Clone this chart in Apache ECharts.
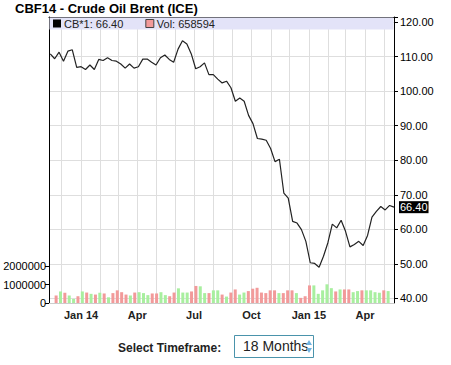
<!DOCTYPE html>
<html><head><meta charset="utf-8">
<script src="https://cdn.jsdelivr.net/npm/echarts@6/dist/echarts.min.js"></script>
<style>html,body{margin:0;padding:0;background:#fff;}#c{width:451px;height:365px;}</style>
</head><body><div id="c"></div>
<script>
// ---- data ----
const weekDates = [
 '2013-11-15','2013-11-22','2013-11-29','2013-12-06','2013-12-13','2013-12-20','2013-12-27',
 '2014-01-03','2014-01-10','2014-01-17','2014-01-24','2014-01-31','2014-02-07','2014-02-14',
 '2014-02-21','2014-02-28','2014-03-07','2014-03-14','2014-03-21','2014-03-28','2014-04-04',
 '2014-04-11','2014-04-18','2014-04-25','2014-05-02','2014-05-09','2014-05-16','2014-05-23',
 '2014-05-30','2014-06-06','2014-06-13','2014-06-20','2014-06-27','2014-07-04','2014-07-11',
 '2014-07-18','2014-07-25','2014-08-01','2014-08-08','2014-08-15','2014-08-22','2014-08-29',
 '2014-09-05','2014-09-12','2014-09-19','2014-09-26','2014-10-03','2014-10-10','2014-10-17',
 '2014-10-24','2014-10-31','2014-11-07','2014-11-14','2014-11-21','2014-11-28','2014-12-05',
 '2014-12-12','2014-12-19','2014-12-26','2015-01-02','2015-01-09','2015-01-16','2015-01-23',
 '2015-01-30','2015-02-06','2015-02-13','2015-02-20','2015-02-27','2015-03-06','2015-03-13',
 '2015-03-20','2015-03-27','2015-04-03','2015-04-10','2015-04-17','2015-04-24','2015-05-01',
 '2015-05-08','2015-05-15'
];
const prices = [
 110.8,109.4,111.3,108.7,111.6,112.0,106.9,107.1,106.3,107.6,
 106.3,109.2,108.9,109.7,108.9,108.7,107.9,106.7,107.9,106.7,
 107.1,109.3,109.3,108.4,107.6,109.7,110.5,109.2,108.4,112.2,
 114.6,113.7,110.8,106.5,107.1,108.2,104.8,104.8,103.5,102.4,
 102.9,101.0,97.1,98.0,97.1,93.0,90.6,86.3,86.1,85.8,
 83.4,79.6,80.3,70.5,69.0,62.3,61.8,59.9,56.5,50.3,
 50.1,49.0,52.2,56.1,61.5,60.4,62.6,59.4,54.9,55.6,
 56.5,55.3,58.2,63.5,65.2,66.6,65.6,66.9,66.40
];
// weekly volume bars (first and last week fall outside the visible bars)
const volumes = [
 null,
 410000,630000,560000,410000,220000,370000,630000,570000,500000,460000,
 560000,520000,310000,540000,690000,590000,460000,410000,570000,590000,
 540000,430000,520000,520000,590000,430000,370000,570000,800000,570000,
 570000,630000,930000,910000,540000,540000,690000,690000,460000,350000,
 570000,740000,460000,570000,650000,780000,830000,570000,540000,690000,
 690000,540000,540000,690000,690000,540000,280000,370000,960000,960000,
 500000,690000,1020000,810000,630000,740000,740000,740000,590000,650000,
 690000,690000,690000,590000,560000,690000,650000,
 null
];
const lastVolume = 658594;
const volumeDirs = [
 'd',
 'd','u','d','u','u','d','u','d','u','d',
 'u','d','u','d','d','d','d','u','d','u',
 'u','u','d','d','u','u','d','d','u','u',
 'u','d','d','u','u','d','u','u','d','u',
 'd','d','u','u','d','d','d','d','d','d',
 'd','u','d','d','d','u','d','d','d','u',
 'u','u','u','u','d','u','d','d','u','u',
 'd','u','u','u','u','d','u',
 'd'
];
const priceTicks = [40,50,60,70,80,90,100,110,120];
const volumeTicks = [0,1000000,2000000];
const quarterLabels = {0:'Jan',3:'Apr',6:'Jul',9:'Oct'};
const seriesName = 'CB*1';
const volName = 'Vol';

// ---- build ----
function toTime(s){const p=s.split('-');return new Date(+p[0],+p[1]-1,+p[2]).getTime();}
const times = weekDates.map(toTime);
const xMin = new Date(2013,10,13).getTime();
const xMax = new Date(2015,4,15).getTime();
const lastPrice = prices[prices.length-1];
const FONT = '"Liberation Sans", Arial, sans-serif';
const UP = '#a8ef9f', DOWN = '#f29a9a';

const chart = echarts.init(document.getElementById('c'), null, {renderer:'svg'});
chart.setOption({
  animation:false,
  textStyle:{fontFamily:FONT},
  title:{text:'CBF14 - Crude Oil Brent (ICE)', left:15, top:2, padding:0,
    textStyle:{fontSize:13, fontWeight:'bold', color:'#000', fontFamily:FONT}},
  legend:{left:53, top:18, padding:0, itemWidth:8, itemHeight:8, itemGap:22, icon:'rect',
    selectedMode:false, z:10,
    textStyle:{fontSize:11, color:'#222', fontFamily:FONT, padding:[0,0,0,-2]},
    data:[{name:seriesName, itemStyle:{color:'#000'}},
          {name:volName, itemStyle:{color:DOWN, borderColor:'#444', borderWidth:1}}],
    formatter:function(n){return n===seriesName ? n+': '+lastPrice.toFixed(2) : n+': '+lastVolume;}
  },
  grid:[
    {left:49, right:57, top:17, bottom:66.7},
    {left:49, right:57, top:17, bottom:62}
  ],
  xAxis:[
    {type:'time', gridIndex:0, min:xMin, max:xMax, position:'top',
      axisLine:{show:true, lineStyle:{color:'#000', width:1}},
      axisTick:{show:false}, axisLabel:{show:false}, splitLine:{show:false}},
    {type:'time', gridIndex:1, min:xMin, max:xMax, splitNumber:18,
      minInterval:27*86400000, maxInterval:32*86400000,
      axisLine:{show:true, lineStyle:{color:'#ccc'}}, axisTick:{show:false},
      axisLabel:{margin:6, fontSize:11, fontWeight:'bold', color:'#222', fontFamily:FONT, hideOverlap:false,
        formatter:function(v){const d=new Date(v); if(d.getDate()!==1) return '';
          const m=d.getMonth(); if(!(m in quarterLabels)) return '';
          return m===0 ? 'Jan '+String(d.getFullYear()).slice(2) : quarterLabels[m];}},
      splitLine:{show:true, lineStyle:{color:'#dedede', width:1}}}
  ],
  yAxis:[
    {type:'value', gridIndex:0, position:'right', min:40, max:121.5, interval:10,
      axisLine:{show:false},
      axisTick:{show:true, length:4, lineStyle:{color:'#000'}},
      axisLabel:{margin:6, fontSize:11, color:'#000', fontFamily:FONT,
        formatter:function(v){return priceTicks.indexOf(v)>=0 ? v.toFixed(2) : '';}},
      splitLine:{show:true, lineStyle:{color:'#dedede', width:1}}},
    {type:'value', gridIndex:1, position:'left', min:0, max:15600000, interval:1000000,
      axisLine:{show:true, lineStyle:{color:'#000', width:1}},
      axisTick:{show:true, length:4, customValues:volumeTicks, lineStyle:{color:'#000'}},
      axisLabel:{margin:3, fontSize:11, color:'#000', fontFamily:FONT, customValues:volumeTicks,
        formatter:function(v){return volumeTicks.indexOf(v)>=0 ? String(v) : '';}},
      splitLine:{show:false}},
    {type:'value', gridIndex:1, position:'right', min:0, max:1,
      axisLine:{show:true, lineStyle:{color:'#000', width:1}},
      axisTick:{show:false}, axisLabel:{show:false}, splitLine:{show:false}}
  ],
  graphic:[
    {type:'rect', z:1, silent:true, shape:{x:49.5, y:17.5, width:344, height:12},
      style:{fill:'#e3e3f8'}},
    {type:'text', left:118, top:342, style:{text:'Select Timeframe:', font:'bold 12px '+FONT, fill:'#222'}},
    {type:'rect', shape:{x:234.5, y:335.5, width:79, height:22}, style:{fill:'#fff', stroke:'#4a93ab', lineWidth:1}},
    {type:'text', left:243, top:339, style:{text:'18 Months', font:'14px '+FONT, fill:'#222'}},
    {type:'polygon', shape:{points:[[306,345],[312,345],[309,340]]}, style:{fill:'#6fb3e0'}},
    {type:'polygon', shape:{points:[[306,348],[312,348],[309,353]]}, style:{fill:'#6fb3e0'}}
  ],
  series:[
    {name:seriesName, type:'line', xAxisIndex:0, yAxisIndex:0, z:5,
      data:times.map((t,i)=>[t,prices[i]]), symbol:'none', showSymbol:false,
      lineStyle:{color:'#222', width:1.2},
      endLabel:{show:true, distance:5, formatter:function(p){return p.value[1].toFixed(2);},
        backgroundColor:'#000', color:'#fff', fontSize:11, fontFamily:FONT, padding:[1,1,0,1]}},
    {name:volName, type:'bar', xAxisIndex:1, yAxisIndex:1, barWidth:3,
      data:times.map((t,i)=>({value:[t,volumes[i]], itemStyle:{color: volumeDirs[i]==='u'?UP:DOWN}}))}
  ]
});
</script>
</body></html>
